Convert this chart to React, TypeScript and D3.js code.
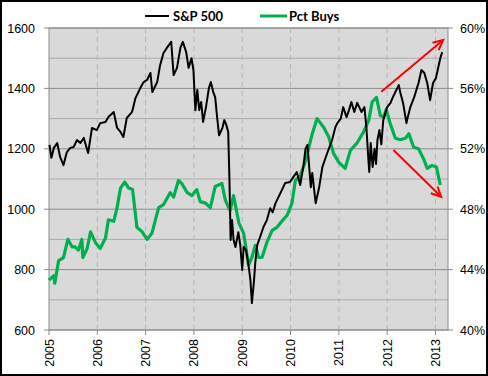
import React from "react";
import * as d3 from "d3";

// S&P 500 (decimal year, index level)
const spYears = [
  2005.01, 2005.05, 2005.1, 2005.17, 2005.23, 2005.3, 2005.37, 2005.44, 2005.51, 2005.58, 2005.65, 2005.72, 2005.81, 2005.89, 2005.99,
  2006.06, 2006.17, 2006.23, 2006.34, 2006.41, 2006.48, 2006.54, 2006.61, 2006.72, 2006.79, 2006.89, 2006.96,
  2007.03, 2007.1, 2007.14, 2007.24, 2007.3, 2007.37, 2007.44, 2007.53, 2007.58, 2007.65, 2007.72, 2007.77, 2007.84, 2007.89, 2007.95, 2007.99,
  2008.03, 2008.07, 2008.11, 2008.15, 2008.19, 2008.25, 2008.31, 2008.35, 2008.4, 2008.44, 2008.48, 2008.52, 2008.59, 2008.63, 2008.67, 2008.71, 2008.735, 2008.76, 2008.79, 2008.82, 2008.86, 2008.92, 2008.96,
  2009.0, 2009.03, 2009.08, 2009.13, 2009.17, 2009.2, 2009.24, 2009.27, 2009.31, 2009.37, 2009.44, 2009.51, 2009.58, 2009.63, 2009.69, 2009.75, 2009.82, 2009.89, 2009.99,
  2010.06, 2010.13, 2010.2, 2010.27, 2010.31, 2010.35, 2010.42, 2010.45, 2010.52, 2010.59, 2010.66, 2010.76, 2010.86, 2010.93, 2010.97,
  2011.04, 2011.09, 2011.16, 2011.21, 2011.26, 2011.32, 2011.38, 2011.47, 2011.53, 2011.57, 2011.61, 2011.63, 2011.66, 2011.7, 2011.74, 2011.77, 2011.8, 2011.84, 2011.88, 2011.92,
  2012.0, 2012.07, 2012.11, 2012.17, 2012.21, 2012.24, 2012.27, 2012.33, 2012.4, 2012.42, 2012.48, 2012.56, 2012.65, 2012.71, 2012.77, 2012.83, 2012.89, 2012.95,
  2013.01, 2013.06, 2013.1, 2013.14,
];
const spValues = [
  1213, 1170, 1203, 1219, 1173, 1146, 1189, 1203, 1206, 1229, 1219, 1236, 1186, 1269, 1262,
  1285, 1289, 1305, 1322, 1269, 1256, 1239, 1302, 1322, 1368, 1401, 1421,
  1428, 1451, 1388, 1421, 1477, 1517, 1534, 1554, 1444, 1468, 1534, 1554, 1520, 1468, 1500, 1461,
  1328, 1395, 1328, 1355, 1289, 1338, 1401, 1421, 1388, 1371, 1305, 1245, 1269, 1295, 1279, 1256, 1100, 898, 964, 900, 875, 924, 880,
  799, 875, 865, 815, 765, 689, 756, 822, 881, 908, 941, 964, 1003, 990, 1020, 1040, 1063, 1087, 1090,
  1107, 1123, 1080, 1146, 1200, 1213, 1073, 1120, 1020, 1070, 1140, 1186, 1229, 1272, 1285,
  1300, 1338, 1305, 1328, 1355, 1322, 1352, 1322, 1338, 1272, 1170, 1123, 1219, 1140, 1200, 1150, 1230, 1262, 1215, 1295,
  1338, 1352, 1368, 1388, 1401, 1411, 1388, 1352, 1285, 1300, 1338, 1371, 1418, 1461, 1451, 1418, 1361, 1418,
  1434, 1471, 1500, 1520,
];

// Pct Buys (decimal year, percent)
const buyYears = [
  2005.0, 2005.1, 2005.12, 2005.2, 2005.3, 2005.39, 2005.48, 2005.54, 2005.61, 2005.68, 2005.7, 2005.79, 2005.86, 2005.96,
  2006.06, 2006.17, 2006.23, 2006.34, 2006.41, 2006.48, 2006.57, 2006.65, 2006.73, 2006.82, 2006.93,
  2007.03, 2007.13, 2007.27, 2007.37, 2007.51, 2007.58, 2007.68, 2007.75, 2007.86, 2007.96,
  2008.06, 2008.13, 2008.24, 2008.34, 2008.44, 2008.58, 2008.65, 2008.75, 2008.82, 2008.93,
  2009.03, 2009.13, 2009.2, 2009.27, 2009.34, 2009.41, 2009.51, 2009.62, 2009.72, 2009.82, 2009.93,
  2010.03, 2010.1, 2010.2, 2010.31, 2010.45, 2010.55, 2010.69, 2010.79, 2010.89,
  2011.0, 2011.13, 2011.24, 2011.38, 2011.51, 2011.62, 2011.69, 2011.78, 2011.86, 2011.93, 2011.98,
  2012.07, 2012.17, 2012.27, 2012.38, 2012.45, 2012.55, 2012.65, 2012.76, 2012.83, 2012.93, 2013.02, 2013.1,
];
const buyValues = [
  43.3, 43.6, 43.1, 44.6, 44.8, 46.0, 45.5, 45.5, 45.3, 46.0, 44.8, 45.4, 46.5, 45.8,
  45.4, 46.1, 47.3, 47.2, 48.1, 49.4, 49.8, 49.4, 49.3, 46.8, 46.5,
  46.0, 46.4, 48.1, 48.3, 49.1, 48.8, 49.9, 49.7, 49.1, 48.9,
  49.3, 48.5, 48.4, 48.1, 49.5, 49.7, 48.6, 47.9, 48.9, 47.1,
  46.4, 44.3, 44.8, 45.6, 44.8, 44.8, 45.8, 46.6, 46.8, 47.2, 47.6,
  48.4, 49.9, 50.2, 51.2, 53.0, 54.0, 53.4, 52.8, 51.7,
  51.1, 50.7, 51.9, 52.4, 53.1, 53.9, 55.1, 55.4, 54.2, 54.1, 54.6,
  53.6, 52.7, 52.6, 52.7, 53.0, 52.1, 52.0, 51.3, 50.7, 50.9, 50.8, 49.6,
];

const yearTicks = [2005, 2006, 2007, 2008, 2009, 2010, 2011, 2012, 2013];
const leftTicks = [600, 800, 1000, 1200, 1400, 1600];
const leftMinor = [700, 900, 1100, 1300, 1500];
const rightTicks = [40, 44, 48, 52, 56, 60];

// Annotation arrows: [startYear, startSP, endYear, endSP]
const arrows = [
  [2011.88, 1389, 2013.16, 1560],
  [2012.13, 1196, 2013.12, 1041],
];

const W = 488;
const H = 376;
const L = 49;
const R = 448;
const T = 28;
const B = 330;

export default function App() {
  const x = d3.scaleLinear().domain([2005, 2013.26]).range([L, R]);
  const yL = d3.scaleLinear().domain([600, 1600]).range([B, T]);
  const yR = d3.scaleLinear().domain([40, 60]).range([B, T]);

  const sp = spYears.map((t, i) => [t, spValues[i]] as [number, number]);
  const buys = buyYears.map((t, i) => [t, buyValues[i]] as [number, number]);

  const spLine = d3.line<[number, number]>().x((d) => x(d[0])).y((d) => yL(d[1]));
  const buyLine = d3.line<[number, number]>().x((d) => x(d[0])).y((d) => yR(d[1]));

  const font = "'Liberation Sans', Arial, sans-serif";

  const arrowHead = (x1: number, y1: number, x2: number, y2: number) => {
    const ang = Math.atan2(y2 - y1, x2 - x1);
    const len = 11;
    const spread = 0.45;
    const a1 = [x2 - len * Math.cos(ang - spread), y2 - len * Math.sin(ang - spread)];
    const a2 = [x2 - len * Math.cos(ang + spread), y2 - len * Math.sin(ang + spread)];
    return `M${a1[0]},${a1[1]}L${x2},${y2}L${a2[0]},${a2[1]}`;
  };

  return (
    <div style={{ position: "absolute", left: 0, top: 0 }}>
      <svg width={W} height={H} style={{ display: "block" }}>
        <rect x={0} y={0} width={W} height={H} fill="#fff" />
        <rect x={1} y={1} width={W - 2} height={H - 2} fill="none" stroke="#000" strokeWidth={2} />

        {/* plot area */}
        <rect x={L} y={T} width={R - L} height={B - T} fill="#D9D9D9" />
        {leftMinor.map((v) => (
          <line key={"m" + v} x1={L} x2={R} y1={yL(v)} y2={yL(v)} stroke="#ABABAB" strokeWidth={1} />
        ))}
        {leftTicks.map((v) => (
          <line key={"g" + v} x1={L} x2={R} y1={yL(v)} y2={yL(v)} stroke="#8C8C8C" strokeWidth={1} />
        ))}
        {yearTicks.slice(1).map((t) => (
          <line key={"v" + t} x1={x(t)} x2={x(t)} y1={T} y2={B} stroke="#B4B4B4" strokeWidth={1} strokeDasharray="5,4" />
        ))}
        <rect x={L} y={T} width={R - L} height={B - T} fill="none" stroke="#8C8C8C" strokeWidth={1} />

        {/* axes ticks */}
        {leftTicks.map((v) => (
          <g key={"lt" + v}>
            <line x1={L - 5} x2={L} y1={yL(v)} y2={yL(v)} stroke="#8C8C8C" />
            <text x={35} y={yL(v)} dy="0.36em" textAnchor="end" fontFamily={font} fontSize={12.5} fill="#000">
              {v}
            </text>
          </g>
        ))}
        {rightTicks.map((v) => (
          <g key={"rt" + v}>
            <line x1={R} x2={R + 5} y1={yR(v)} y2={yR(v)} stroke="#8C8C8C" />
            <text x={460} y={yR(v)} dy="0.36em" textAnchor="start" fontFamily={font} fontSize={12.5} fill="#000">
              {v}%
            </text>
          </g>
        ))}
        {yearTicks.map((t) => (
          <g key={"xt" + t}>
            <line x1={x(t)} x2={x(t)} y1={B} y2={B + 5} stroke="#8C8C8C" />
            <text
              transform={`translate(${x(t)},339) rotate(-90)`}
              dy="0.36em"
              textAnchor="end"
              fontFamily={font}
              fontSize={12.5}
              fill="#000"
            >
              {t}
            </text>
          </g>
        ))}

        {/* series */}
        <path d={buyLine(buys) || ""} fill="none" stroke="#00B050" strokeWidth={3.2} strokeLinejoin="round" />
        <path d={spLine(sp) || ""} fill="none" stroke="#000" strokeWidth={2} strokeLinejoin="round" />

        {/* arrows */}
        {arrows.map((a, i) => {
          const x1 = x(a[0]);
          const y1 = yL(a[1]);
          const x2 = x(a[2]);
          const y2 = yL(a[3]);
          return (
            <g key={"a" + i} stroke="#FF0000" strokeWidth={2} fill="none">
              <line x1={x1} y1={y1} x2={x2} y2={y2} />
              <path d={arrowHead(x1, y1, x2, y2)} />
            </g>
          );
        })}

        {/* legend */}
        <line x1={145} x2={169} y1={16} y2={16} stroke="#000" strokeWidth={2} />
        <text x={173} y={21} fontFamily="Lato, 'Open Sans', sans-serif" fontWeight="bold" fontSize={13} fill="#000">
          S&amp;P 500
        </text>
        <line x1={260} x2={287} y1={16} y2={16} stroke="#00B050" strokeWidth={3} />
        <text x={289} y={21} fontFamily="Lato, 'Open Sans', sans-serif" fontWeight="bold" fontSize={13} fill="#000">
          Pct Buys
        </text>
      </svg>
    </div>
  );
}
